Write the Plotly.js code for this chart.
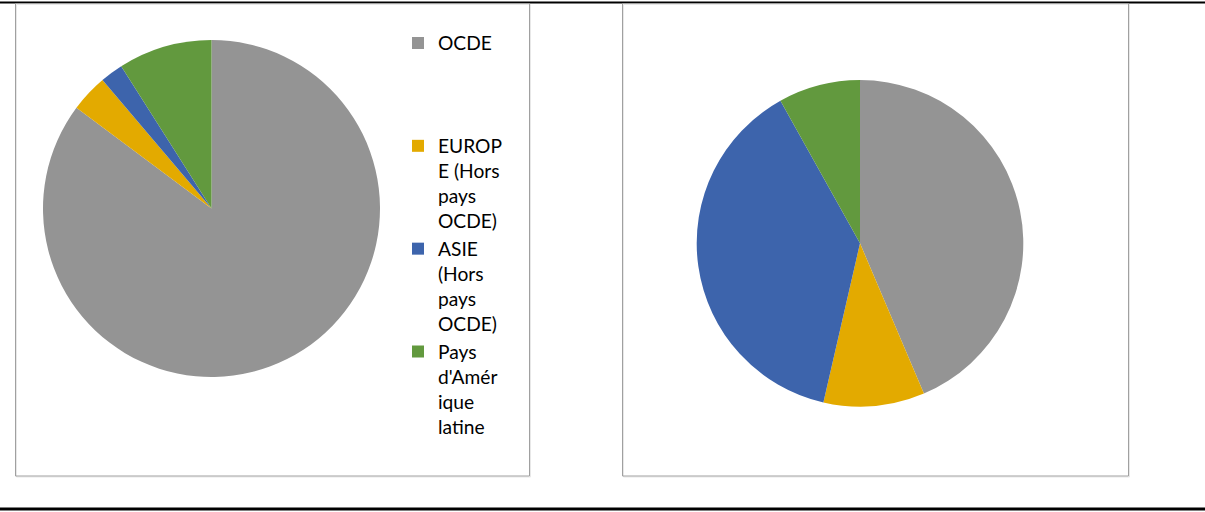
<!DOCTYPE html>
<html>
<head>
<meta charset="utf-8">
<script src="https://cdn.plot.ly/plotly-3.0.1.min.js"></script>
<style>html,body{margin:0;padding:0;background:#fff;}#chart{width:1205px;height:512px;}</style>
</head>
<body>
<div id="chart"></div>
<script>
// Categories (full names) and the wrapped form shown in the legend
var categories = ["OCDE", "EUROPE (Hors pays OCDE)", "ASIE (Hors pays OCDE)", "Pays d'Amérique latine"];
var legendLabels = [
  "OCDE<br>&nbsp;<br>&nbsp;<br>&nbsp;",
  "EUROP<br>E (Hors<br>pays<br>OCDE)",
  "ASIE<br>(Hors<br>pays<br>OCDE)",
  "Pays<br>d'Amér<br>ique<br>latine"
];
// Shares (%)
var leftValues = [85.2, 3.6, 2.2, 9.0];
var rightValues = [43.6, 10.0, 38.3, 8.1];
var colors = ["#949494", "#E3AA00", "#3D64AC", "#62993E"];

var W = 1205, H = 512;
function px(x){ return x / W; }
function py(y){ return 1 - y / H; }

var common = {
  type: 'pie',
  labels: legendLabels,
  customdata: categories,
  hovertemplate: '%{customdata}: %{value}<extra></extra>',
  sort: false,
  direction: 'clockwise',
  rotation: 0,
  textinfo: 'none',
  marker: {colors: colors, line: {width: 0}}
};

var left = Object.assign({}, common, {
  values: leftValues,
  domain: {x: [px(43), px(380)], y: [py(377), py(40)]}
});
var right = Object.assign({}, common, {
  values: rightValues,
  domain: {x: [px(696.7), px(1023.3)], y: [py(406.6), py(80)]},
  showlegend: false
});

var shapes = [
  // top and bottom black rules
  {type:'line', xref:'paper', yref:'paper', x0:0, x1:1, y0:py(2.5), y1:py(2.5), line:{color:'#000', width:2}},
  {type:'line', xref:'paper', yref:'paper', x0:0, x1:1, y0:py(509), y1:py(509), line:{color:'#000', width:3}},
  // chart frames (light shadow then border)
  {type:'rect', xref:'paper', yref:'paper', x0:px(16.5), x1:px(530.5), y0:py(477), y1:py(4.5), line:{color:'#E8E8E8', width:1}},
  {type:'rect', xref:'paper', yref:'paper', x0:px(15.5), x1:px(529.5), y0:py(476), y1:py(3.5), line:{color:'#A0A0A0', width:1}},
  {type:'rect', xref:'paper', yref:'paper', x0:px(623.5), x1:px(1129.5), y0:py(477), y1:py(4.5), line:{color:'#E8E8E8', width:1}},
  {type:'rect', xref:'paper', yref:'paper', x0:px(622.5), x1:px(1128.5), y0:py(476), y1:py(3.5), line:{color:'#A0A0A0', width:1}}
];

var layout = {
  width: W, height: H,
  margin: {l:0, r:0, t:0, b:0},
  paper_bgcolor: '#fff',
  plot_bgcolor: '#fff',
  showlegend: true,
  legend: {
    x: px(398), xanchor: 'left',
    y: py(24), yanchor: 'top',
    valign: 'top',
    bgcolor: 'rgba(0,0,0,0)',
    borderwidth: 0,
    font: {family: 'Lato, "Noto Sans", sans-serif', size: 19.2, color: '#000'}
  },
  shapes: shapes
};

Plotly.newPlot('chart', [left, right], layout, {displayModeBar: false, staticPlot: false});
</script>
</body>
</html>
